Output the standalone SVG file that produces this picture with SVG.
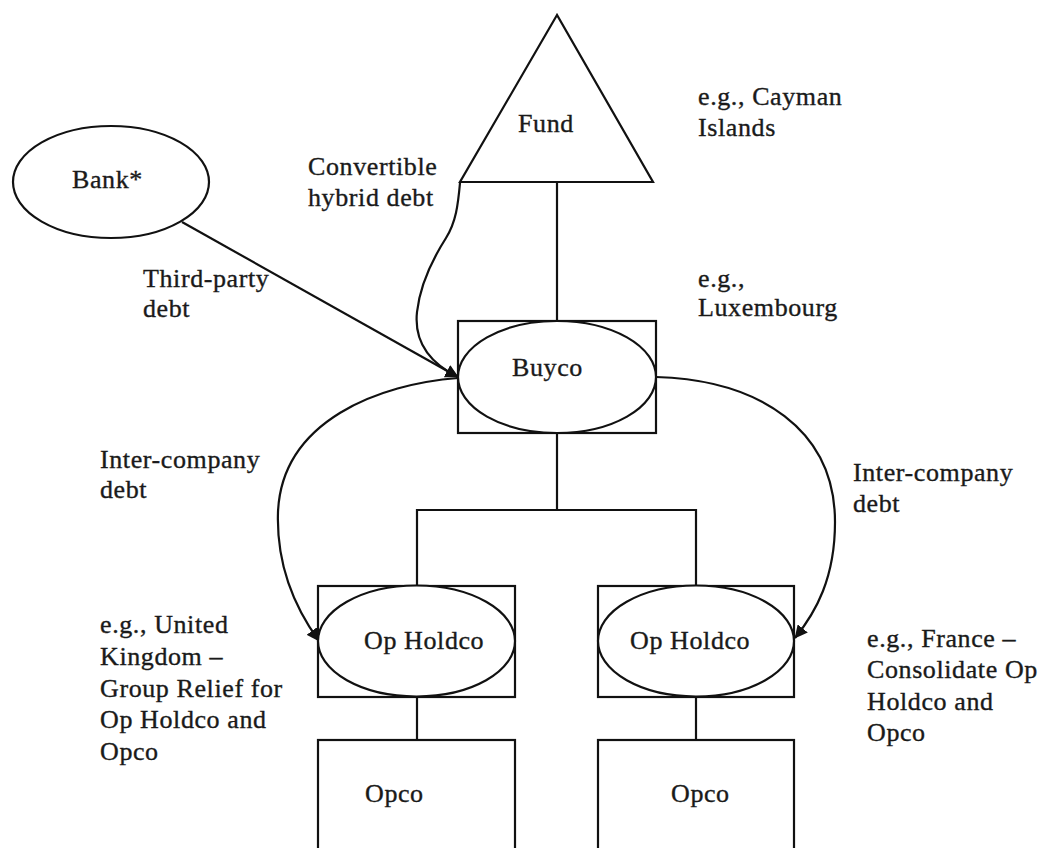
<svg xmlns="http://www.w3.org/2000/svg" width="1042" height="848" viewBox="0 0 1042 848">
  <defs>
    <marker id="arrow" viewBox="0 0 10 10" refX="9.5" refY="5" markerWidth="13" markerHeight="13" markerUnits="userSpaceOnUse" orient="auto">
      <path d="M0,0 L10,5 L0,10 z" fill="#111"/>
    </marker>
    <style>
      .shape { fill: #fff; stroke: #111; stroke-width: 2.2; }
      .line { fill: none; stroke: #111; stroke-width: 2.2; }
      .arrow { fill: none; stroke: #111; stroke-width: 2.2; marker-end: url(#arrow); }
      text { font-family: "Liberation Serif", "Times New Roman", serif; font-size: 26px; letter-spacing: 0.6px; fill: #1a1a1a; stroke: #1a1a1a; stroke-width: 0.35; }
    </style>
  </defs>
  <rect width="1042" height="848" fill="#fff"/>

  <!-- ownership lines -->
  <g id="connectors">
    <line class="line" x1="557" y1="182" x2="557" y2="321"/>
    <line class="line" x1="557" y1="433" x2="557" y2="510"/>
    <polyline class="line" points="417,586 417,510 696,510 696,586"/>
    <line class="line" x1="417" y1="697" x2="417" y2="740"/>
    <line class="line" x1="696" y1="697" x2="696" y2="740"/>

    <!-- debt flows -->
    <line class="arrow" x1="182" y1="222" x2="458" y2="377"/>
    <path class="arrow" d="M460,183 C458,205 456,222 446,238 C432,260 420,285 417,312 C414,340 428,362 458,377"/>
    <path class="arrow" d="M458,378 C380,384 282,420 278,512 C276,570 298,612 319,641"/>
    <path class="arrow" d="M656,377 C760,380 835,430 835,522 C835,578 816,612 795,638"/>
  </g>

  <g id="fund">
    <polygon class="shape" points="557,15 460,182 653,182"/>
    <text x="518" y="132">Fund</text>
  </g>

  <g id="bank">
    <ellipse class="shape" cx="111" cy="182" rx="98" ry="56"/>
    <text x="72" y="188">Bank*</text>
  </g>

  <g id="buyco">
    <rect class="shape" x="458" y="321" width="198" height="112"/>
    <ellipse class="shape" cx="557" cy="377" rx="99" ry="56"/>
    <text x="512" y="376">Buyco</text>
  </g>

  <g id="opholdco-left">
    <rect class="shape" x="318" y="586" width="197" height="111"/>
    <ellipse class="shape" cx="416.5" cy="641" rx="98.5" ry="55.5"/>
    <text x="364" y="649">Op Holdco</text>
  </g>

  <g id="opholdco-right">
    <rect class="shape" x="598" y="586" width="196" height="111"/>
    <ellipse class="shape" cx="696" cy="641" rx="98" ry="55.5"/>
    <text x="630" y="649">Op Holdco</text>
  </g>

  <g id="opco-left">
    <rect class="shape" x="318" y="740" width="197" height="120"/>
    <text x="365" y="802">Opco</text>
  </g>

  <g id="opco-right">
    <rect class="shape" x="598" y="740" width="196" height="120"/>
    <text x="671" y="802">Opco</text>
  </g>

  <!-- annotations -->
  <g id="labels">
    <text x="698" y="105">e.g., Cayman</text>
    <text x="698" y="136">Islands</text>
    <text x="308" y="175">Convertible</text>
    <text x="308" y="206">hybrid debt</text>
    <text x="143" y="287">Third-party</text>
    <text x="143" y="317">debt</text>
    <text x="698" y="287">e.g.,</text>
    <text x="698" y="316">Luxembourg</text>
    <text x="100" y="468">Inter-company</text>
    <text x="100" y="498">debt</text>
    <text x="853" y="481">Inter-company</text>
    <text x="853" y="512">debt</text>
    <text x="100" y="633">e.g., United</text>
    <text x="100" y="665">Kingdom –</text>
    <text x="100" y="697">Group Relief for</text>
    <text x="100" y="728">Op Holdco and</text>
    <text x="100" y="760">Opco</text>
    <text x="867" y="647">e.g., France –</text>
    <text x="867" y="678">Consolidate Op</text>
    <text x="867" y="710">Holdco and</text>
    <text x="867" y="741">Opco</text>
  </g>
</svg>
